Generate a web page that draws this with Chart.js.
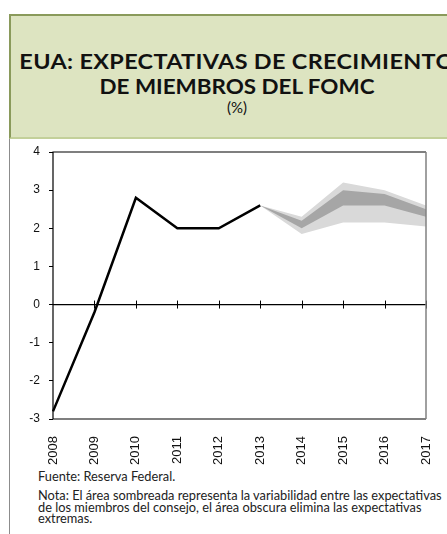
<!DOCTYPE html>
<html><head><meta charset="utf-8">
<script src="https://cdn.jsdelivr.net/npm/chart.js@4/dist/chart.umd.min.js"></script>
<style>
html,body{margin:0;padding:0;width:447px;height:534px;overflow:hidden;background:#fff;}
#frame{position:absolute;left:9px;top:14px;width:460px;height:540px;border-left:1px solid #8c8c8c;}
#hdr{position:absolute;left:9px;top:14px;width:460px;height:125px;background:#dde4c1;border-top:2px solid #8a9a5b;border-left:2px solid #8a9a5b;border-bottom:2px solid #c3d09a;box-sizing:border-box;font-family:Lato,"Open Sans",sans-serif;color:#111;text-align:center;}
.tl{position:absolute;left:0;width:452px;white-space:nowrap;transform-origin:226px 50%;}
#t1{top:33px;font-size:20px;letter-spacing:0.3px;font-weight:bold;transform:scaleX(1.17);}
#t2{top:58px;font-size:20px;font-weight:bold;transform:scaleX(1.12);}
#t3{top:82px;font-size:15px;}
#wrap{position:absolute;left:10px;top:141px;width:437px;height:324px;}
#notes{position:absolute;left:38px;top:471px;width:420px;font-family:Lato,"Open Sans",sans-serif;font-size:12.8px;color:#222;line-height:11.8px;}
#notes div{white-space:nowrap;}
</style></head>
<body>
<div id="frame"></div>
<div id="hdr">
<div class="tl" id="t1">EUA: EXPECTATIVAS DE CRECIMIENTO</div>
<div class="tl" id="t2">DE MIEMBROS DEL FOMC</div>
<div class="tl" id="t3">(%)</div>
</div>
<div id="wrap"><canvas id="c" width="437" height="324"></canvas></div>
<div id="notes">
<div>Fuente: Reserva Federal.</div>
<div style="margin-top:7px">Nota: El área sombreada representa la variabilidad entre las expectativas</div>
<div>de los miembros del consejo, el área obscura elimina las expectativas</div>
<div>extremas.</div>
</div>
<script>
const years = ['2008','2009','2010','2011','2012','2013','2014','2015','2016','2017'];
const growth = [-2.8, -0.2, 2.8, 2.0, 2.0, 2.6, null, null, null, null];
const rangeHigh = [null, null, null, null, null, 2.6, 2.3, 3.2, 3.0, 2.6];
const rangeLow  = [null, null, null, null, null, 2.6, 1.85, 2.15, 2.15, 2.05];
const centralHigh = [null, null, null, null, null, 2.6, 2.2, 3.0, 2.9, 2.5];
const centralLow  = [null, null, null, null, null, 2.6, 2.0, 2.6, 2.6, 2.3];
const yTicks = [-3, -2, -1, 0, 1, 2, 3, 4];

const frameAndZero = {
  id: 'frameAndZero',
  afterDatasetsDraw(chart) {
    const {ctx, chartArea: a, scales: {x, y}} = chart;
    ctx.save();
    const y0 = y.getPixelForValue(0);
    ctx.strokeStyle = '#000'; ctx.lineWidth = 1.2;
    ctx.beginPath(); ctx.moveTo(a.left, y0); ctx.lineTo(a.right, y0); ctx.stroke();
    ctx.lineWidth = 1;
    for (let i = 1; i < years.length; i++) {
      const px = Math.round(x.getPixelForValue(i)) + 0.5;
      ctx.beginPath(); ctx.moveTo(px, y0 - 4); ctx.lineTo(px, y0 + 4); ctx.stroke();
    }
    ctx.lineWidth = 1.2;
    ctx.strokeStyle = '#000';
    ctx.beginPath(); ctx.moveTo(a.right, a.top); ctx.lineTo(a.left, a.top); ctx.lineTo(a.left, a.bottom); ctx.lineTo(a.right, a.bottom); ctx.stroke();
    ctx.strokeStyle = '#808080'; ctx.lineWidth = 1.5;
    ctx.beginPath(); ctx.moveTo(a.right, a.top); ctx.lineTo(a.right, a.bottom); ctx.stroke();
    ctx.restore();
  }
};

new Chart(document.getElementById('c'), {
  type: 'line',
  data: {
    labels: years,
    datasets: [
      {data: rangeHigh, fill: '+1', backgroundColor: '#d9d9d9', borderWidth: 0, pointRadius: 0, order: 4},
      {data: rangeLow, fill: false, borderWidth: 0, pointRadius: 0, order: 5},
      {data: centralHigh, fill: '+1', backgroundColor: '#a6a6a6', borderWidth: 0, pointRadius: 0, order: 2},
      {data: centralLow, fill: false, borderWidth: 0, pointRadius: 0, order: 3},
      {data: growth, fill: false, borderColor: '#000', borderWidth: 2.5, pointRadius: 0, order: 0, tension: 0, borderJoinStyle: 'miter'}
    ]
  },
  options: {
    responsive: false,
    animation: false,
    layout: {padding: {top: 11, right: 21, left: 0, bottom: 0}},
    plugins: {legend: {display: false}, tooltip: {enabled: false}},
    scales: {
      x: {
        offset: false,
        grid: {display: false},
        border: {display: false},
        ticks: {minRotation: 90, maxRotation: 90, color: '#111', padding: 9, font: {family: '"Liberation Sans", Arial, sans-serif', size: 13}},
        afterFit(s) { s.height = 46; s.paddingLeft = 0; s.paddingRight = 0; }
      },
      y: {
        min: -3, max: 4,
        afterBuildTicks(s) { s.ticks = yTicks.map(v => ({value: v})); },
        grid: {drawOnChartArea: false, tickLength: 4, color: '#000'},
        border: {display: false},
        ticks: {color: '#111', padding: 9, font: {family: '"Liberation Sans", Arial, sans-serif', size: 12}},
        afterFit(s) { s.width = 43; s.paddingTop = 0; s.paddingBottom = 0; }
      }
    }
  },
  plugins: [frameAndZero]
});
</script>
</body></html>
